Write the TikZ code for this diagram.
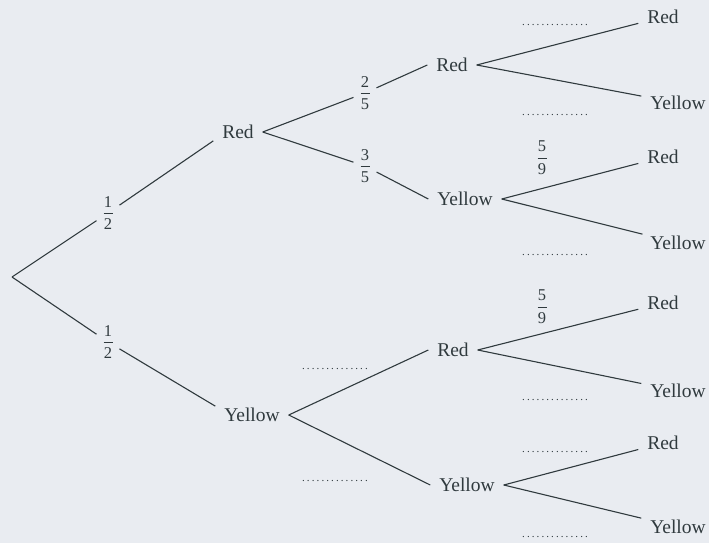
\documentclass[tikz,border=0pt]{standalone}
\usepackage{fontspec}
\setmainfont{Liberation Serif}
\usetikzlibrary{positioning}

\definecolor{scanbg}{RGB}{233,236,241}
\definecolor{ink}{RGB}{48,58,62}

\newcommand{\dotrow}{\makebox[70pt]{\fontsize{11}{12}\selectfont\dotfill}}
\newcommand{\pfrac}[2]{\fontsize{16.5}{16.5}\selectfont\shortstack[c]{#1\\[2.5pt]\rule{9pt}{0.8pt}\\[2.5pt]#2}}

\begin{document}
\begin{tikzpicture}[x=1pt,y=-1pt,line width=1.1pt,
	choice/.style={inner sep=0pt,outer xsep=9pt,outer ysep=2pt,text=ink,font=\fontsize{19.5}{22}\selectfont},
	prob/.style={inner sep=0pt,outer xsep=7pt,outer ysep=3pt,text=ink},
	blank/.style={inner sep=0pt,text=ink}]
	\useasboundingbox (0,0) rectangle (709,543);
	\fill[scanbg] (0,0) rectangle (709,543);

	% first draw
	\coordinate (O) at (12,277);
	\node[choice] (R) at (238,132) {Red};
	\node[choice] (Y) at (252,415) {Yellow};
	\node[prob] (f1) at (108,213) {\pfrac{1}{2}};
	\node[prob] (f2) at (108,342) {\pfrac{1}{2}};

	% second draw
	\node[choice] (RR) at (452,65) {Red};
	\node[choice] (RY) at (465,199) {Yellow};
	\node[choice] (YR) at (453,350) {Red};
	\node[choice] (YY) at (467,485) {Yellow};
	\node[prob] (f3) at (365,93) {\pfrac{2}{5}};
	\node[prob] (f4) at (365,166) {\pfrac{3}{5}};
	\node[blank] (d1) at (335,369) {\dotrow};
	\node[blank] (d2) at (335,481) {\dotrow};

	% third draw
	\node[choice] (RRR) at (663,17) {Red};
	\node[choice] (RRY) at (678,103) {Yellow};
	\node[choice] (RYR) at (663,157) {Red};
	\node[choice] (RYY) at (678,243) {Yellow};
	\node[choice] (YRR) at (663,303) {Red};
	\node[choice] (YRY) at (678,391) {Yellow};
	\node[choice] (YYR) at (663,443) {Red};
	\node[choice] (YYY) at (678,527) {Yellow};
	\node[prob] (f5) at (542,158) {\pfrac{5}{9}};
	\node[prob] (f6) at (542,307) {\pfrac{5}{9}};
	\node[blank] (d3) at (555,25) {\dotrow};
	\node[blank] (d4) at (555,115) {\dotrow};
	\node[blank] (d5) at (555,255) {\dotrow};
	\node[blank] (d6) at (555,400) {\dotrow};
	\node[blank] (d7) at (555,452) {\dotrow};
	\node[blank] (d8) at (555,537) {\dotrow};

	\path[draw=ink]
	(O)	edge	(f1)
	(f1)	edge	(R.south west)
	(O)	edge	(f2)
	(f2)	edge	(Y.north west)
	(R.east)	edge	(f3)
	(f3)	edge	(RR.west)
	(R.east)	edge	(f4)
	(f4)	edge	(RY.west)
	(Y.east)	edge	(YR.west)
	(Y.east)	edge	(YY.west)
	(RR.east)	edge	(RRR)
	(RR.east)	edge	(RRY)
	(RY.east)	edge	(RYR)
	(RY.east)	edge	(RYY)
	(YR.east)	edge	(YRR)
	(YR.east)	edge	(YRY)
	(YY.east)	edge	(YYR)
	(YY.east)	edge	(YYY);
\end{tikzpicture}
\end{document}
